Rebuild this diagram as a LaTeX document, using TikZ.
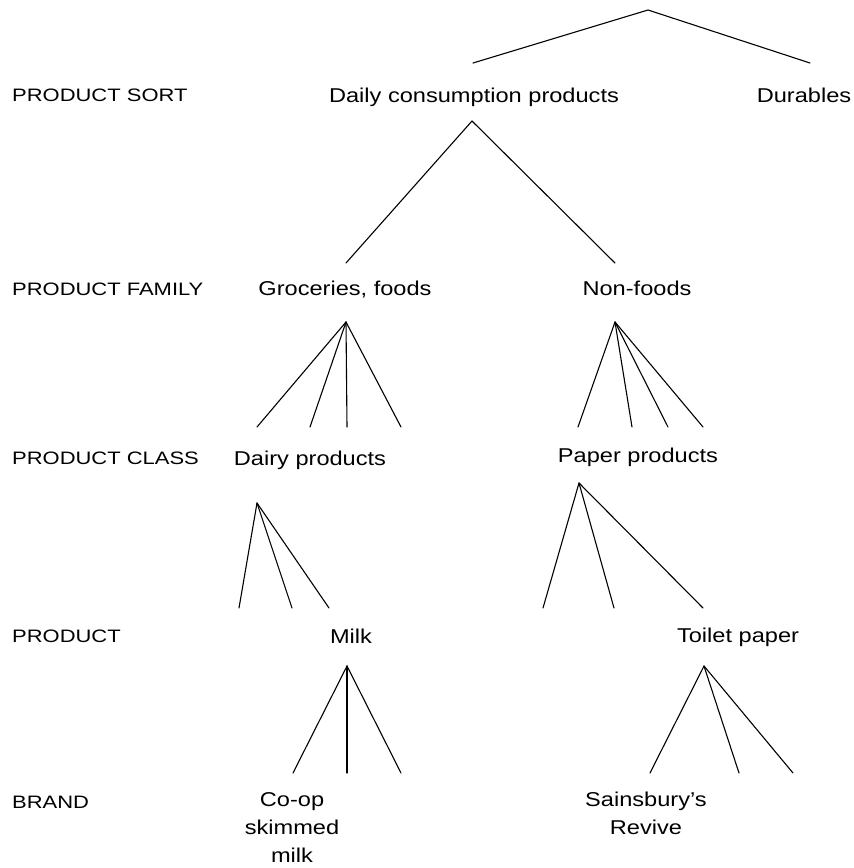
\documentclass[tikz,border=0pt]{standalone}
\usepackage{fontspec}
\setmainfont{Liberation Sans}[FakeStretch=1.18]
\newfontfamily\levelfont{Liberation Sans}[FakeStretch=1.22]
\begin{document}
\begin{tikzpicture}[x=1pt,y=-1pt,
  item/.style={anchor=base,inner sep=0pt,font=\fontsize{20}{28}\selectfont},
  brand/.style={anchor=north,inner sep=0pt,align=center,font=\fontsize{20}{28}\selectfont},
  level/.style={anchor=base west,inner sep=0pt,font=\levelfont\fontsize{18}{22}\selectfont},
  branch/.style={line width=1.1pt,line cap=round,line join=round}]
\useasboundingbox (0,0) rectangle (854,868);

% level captions
\node[level] (lsort)   at (12,101) {PRODUCT SORT};
\node[level] (lfamily) at (12,295) {PRODUCT FAMILY};
\node[level] (lclass)  at (12,464) {PRODUCT CLASS};
\node[level] (lprod)   at (12,642) {PRODUCT};
\node[level] (lbrand)  at (12,808) {BRAND};

% category labels
\node[item] (daily)    at (474,102) {Daily consumption products};
\node[item] (durables) at (804,102) {Durables};
\node[item] (groc)     at (345,295) {Groceries, foods};
\node[item] (nonfood)  at (637,295) {Non-foods};
\node[item] (dairy)    at (310,465) {Dairy products};
\node[item] (paper)    at (638,462) {Paper products};
\node[item] (milk)     at (351,643) {Milk};
\node[item] (toilet)   at (738,642) {Toilet paper};
\node[brand] (coop)    at (292,792) {Co-op\\skimmed\\milk};
\node[brand] (sains)   at (646,792) {Sainsbury's\\Revive};

% branching points (apexes) and branch ends
\coordinate (top)  at (648,10);
\coordinate (t1)   at (473,63);
\coordinate (t2)   at (810,63);

\coordinate (dA)   at (472,121);
\coordinate (d1)   at (346,263);
\coordinate (d2)   at (615,263);

\coordinate (gA)   at (346,322);
\coordinate (g1)   at (257,427);
\coordinate (g2)   at (310,427);
\coordinate (g3)   at (347,427);
\coordinate (g4)   at (401,427);

\coordinate (nA)   at (615,322);
\coordinate (n1)   at (578,427);
\coordinate (n2)   at (632,427);
\coordinate (n3)   at (668,427);
\coordinate (n4)   at (703,427);

\coordinate (yA)   at (257,503);
\coordinate (y1)   at (239,608);
\coordinate (y2)   at (292,608);
\coordinate (y3)   at (329,608);

\coordinate (pA)   at (579,483);
\coordinate (p1)   at (543,608);
\coordinate (p2)   at (614,608);
\coordinate (p3)   at (703,608);

\coordinate (mA)   at (347,666);
\coordinate (m1)   at (293,773);
\coordinate (m2)   at (347,773);
\coordinate (m3)   at (401,773);

\coordinate (xA)   at (704,666);
\coordinate (x1)   at (650,773);
\coordinate (x2)   at (739,773);
\coordinate (x3)   at (793,773);

% branches
\draw[branch] (t1) -- (top) -- (t2);
\draw[branch] (d1) -- (dA) -- (d2);
\foreach \e in {g1,g2,g3,g4} \draw[branch] (gA) -- (\e);
\foreach \e in {n1,n2,n3,n4} \draw[branch] (nA) -- (\e);
\foreach \e in {y1,y2,y3} \draw[branch] (yA) -- (\e);
\foreach \e in {p1,p2,p3} \draw[branch] (pA) -- (\e);
\foreach \e in {m1,m2,m3} \draw[branch] (mA) -- (\e);
\foreach \e in {x1,x2,x3} \draw[branch] (xA) -- (\e);
\end{tikzpicture}
\end{document}
